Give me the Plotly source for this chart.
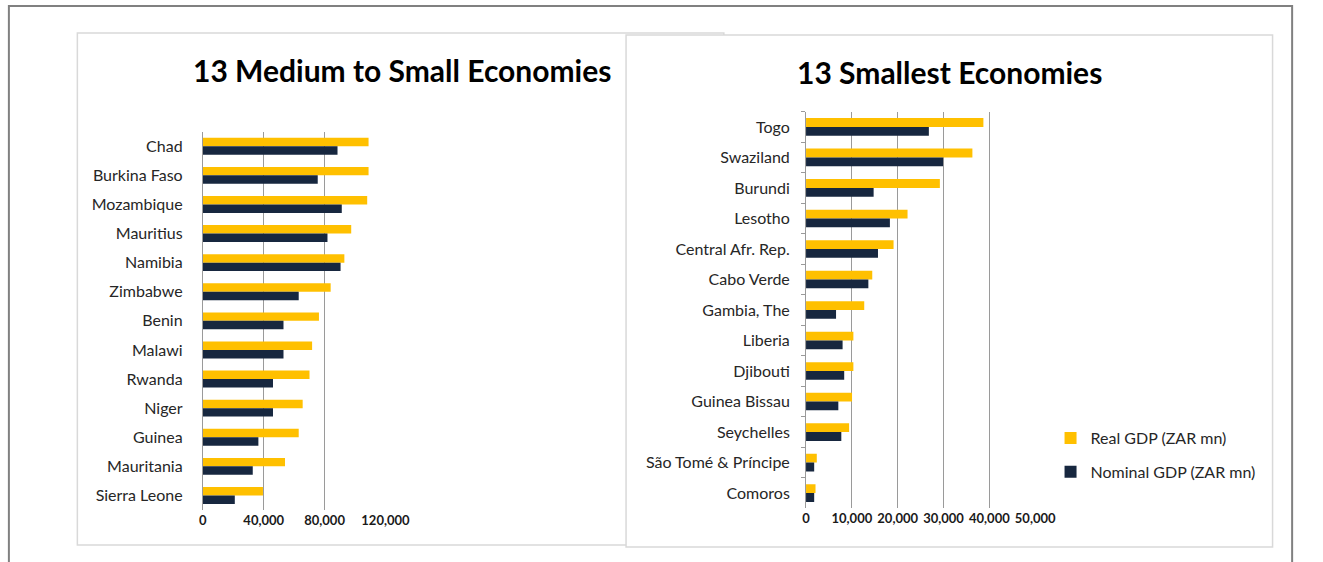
import plotly.graph_objects as go

# ---------------- data ----------------
left_countries = ["Chad", "Burkina Faso", "Mozambique", "Mauritius", "Namibia", "Zimbabwe",
                  "Benin", "Malawi", "Rwanda", "Niger", "Guinea", "Mauritania", "Sierra Leone"]
left_real = [108900, 108900, 108000, 97500, 93000, 84000, 76300, 71800, 70100, 65600, 63000, 54000, 39500]
left_nominal = [88500, 75500, 91300, 81900, 90500, 63000, 53000, 53000, 46100, 46100, 36500, 32800, 21000]

right_countries = ["Togo", "Swaziland", "Burundi", "Lesotho", "Central Afr. Rep.", "Cabo Verde",
                   "Gambia, The", "Liberia", "Djibouti", "Guinea Bissau", "Seychelles",
                   "São Tomé & Príncipe", "Comoros"]
right_real = [38700, 36300, 29200, 22150, 19100, 14450, 12700, 10330, 10330, 10040, 9400, 2350, 2070]
right_nominal = [26800, 29900, 14750, 18300, 15700, 13600, 6550, 7980, 8330, 7050, 7700, 1780, 1780]

left_ticks = [0, 40000, 80000, 120000]
right_ticks = [0, 10000, 20000, 30000, 40000, 50000]

titles = ["13 Medium to Small Economies", "13 Smallest Economies"]
series_names = ["Real GDP (ZAR mn)", "Nominal GDP (ZAR mn)"]

# ---------------- style ----------------
W, H = 1323, 562
YELLOW = "#FFC000"
NAVY = "#17273F"
GRID = "#9a9a9a"
TXT = "#262626"
FONT = "Lato"


def px(x):
    return x / W


def py(y):
    return 1 - y / H


fig = go.Figure()

fig.add_trace(go.Bar(y=left_countries, x=left_real, orientation="h", name=series_names[0],
                     marker=dict(color=YELLOW, line=dict(width=0)), xaxis="x", yaxis="y",
                     showlegend=False))
fig.add_trace(go.Bar(y=left_countries, x=left_nominal, orientation="h", name=series_names[1],
                     marker=dict(color=NAVY, line=dict(width=0)), xaxis="x", yaxis="y",
                     showlegend=False))
fig.add_trace(go.Bar(y=right_countries, x=right_real, orientation="h", name=series_names[0],
                     marker=dict(color=YELLOW, line=dict(width=0)), xaxis="x2", yaxis="y2",
                     legendgroup="a"))
fig.add_trace(go.Bar(y=right_countries, x=right_nominal, orientation="h", name=series_names[1],
                     marker=dict(color=NAVY, line=dict(width=0)), xaxis="x2", yaxis="y2",
                     legendgroup="b"))

xcommon = dict(showgrid=True, gridcolor=GRID, gridwidth=1, zeroline=False, showline=False,
               ticks="", tickformat=",d", fixedrange=True,
               tickfont=dict(family=FONT, size=13, color="#1a1a1a", weight="bold"),
               ticklabelstandoff=1)
ycommon = dict(type="category", autorange="reversed", showgrid=False, zeroline=False,
               showline=True, linecolor=GRID, linewidth=1,
               tickfont=dict(family=FONT, size=16, color=TXT))

fig.update_layout(
    width=W, height=H, margin=dict(l=0, r=0, t=0, b=0),
    paper_bgcolor="white", plot_bgcolor="rgba(0,0,0,0)",
    barmode="group", bargap=0.42, bargroupgap=0,
    xaxis=dict(domain=[px(203.3), px(390)], range=[0, 120000], tickvals=left_ticks,
               anchor="y", **xcommon),
    yaxis=dict(domain=[py(510), py(131.7)], anchor="x", ticks="",
               ticklabelstandoff=16, categoryorder="array", categoryarray=left_countries,
               **ycommon),
    xaxis2=dict(domain=[px(820), px(1054.3)], range=[0, 50000], tickvals=right_ticks,
                anchor="y2", **xcommon),
    yaxis2=dict(domain=[py(508.3), py(111.7)], anchor="x2", ticks="outside", ticklen=4,
                tickcolor=GRID, tickson="boundaries", ticklabelstandoff=12,
                categoryorder="array", categoryarray=right_countries, **ycommon),
    legend=dict(x=px(1070), y=py(421), xanchor="left", yanchor="top",
                font=dict(family=FONT, size=16, color=TXT), traceorder="grouped",
                tracegroupgap=10, bgcolor="rgba(0,0,0,0)", itemwidth=30),
    shapes=[
        dict(type="rect", xref="paper", yref="paper", x0=px(5), x1=px(1317), y0=py(640), y1=py(6),
             line=dict(color="#808080", width=2), fillcolor="rgba(0,0,0,0)", layer="below"),
        dict(type="rect", xref="paper", yref="paper", x0=px(75), x1=px(736), y0=py(545), y1=py(33),
             line=dict(color="#d9d9d9", width=1.5), fillcolor="white", layer="below"),
        dict(type="rect", xref="paper", yref="paper", x0=px(636), x1=px(1297), y0=py(547), y1=py(35),
             line=dict(color="#d9d9d9", width=1.5), fillcolor="white", layer="below"),
    ],
    annotations=[
        dict(text=titles[0], xref="paper", yref="paper", x=px(407), y=py(70), xanchor="center",
             yanchor="middle", showarrow=False,
             font=dict(family=FONT, size=30, color="black", weight="bold")),
        dict(text=titles[1], xref="paper", yref="paper", x=px(967), y=py(72), xanchor="center",
             yanchor="middle", showarrow=False,
             font=dict(family=FONT, size=30, color="black", weight="bold")),
    ],
)

fig.write_html("out.html")
